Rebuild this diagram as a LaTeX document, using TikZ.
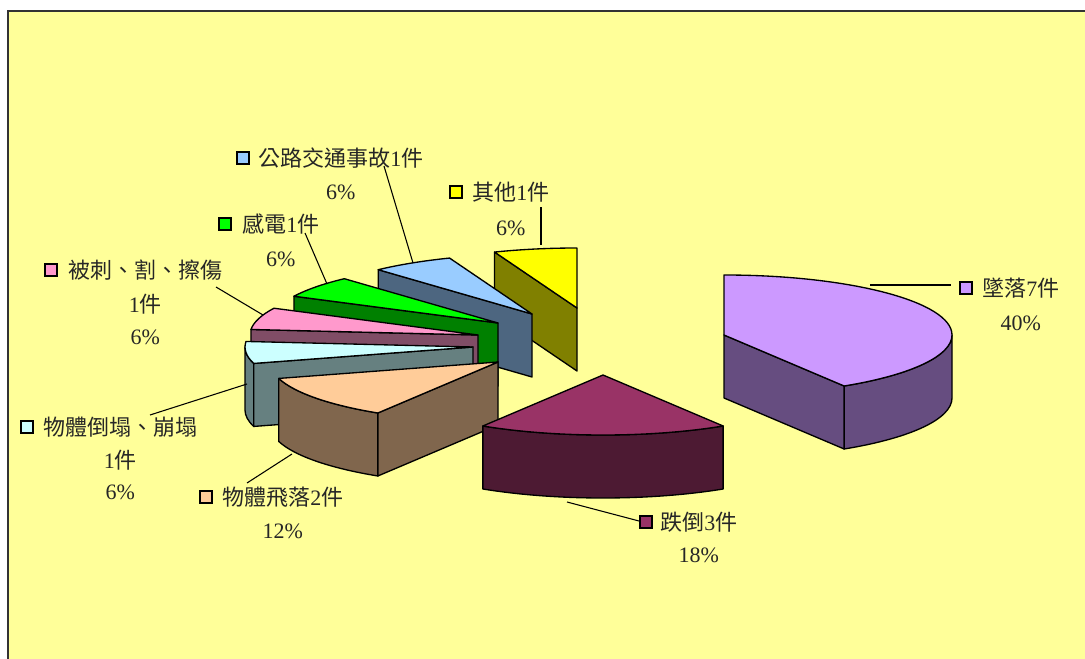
\documentclass[tikz,border=0pt]{standalone}
\usepackage{fontspec}
\setmainfont{Liberation Serif}
\newfontfamily\cjkf{Noto Sans CJK TC}
\usetikzlibrary{calc}
\newcommand{\zh}[1]{{\cjkf #1}}
\definecolor{bgyellow}{HTML}{FFFF99}
\definecolor{purpleT}{HTML}{CC99FF}\definecolor{purpleS}{HTML}{664D80}
\definecolor{maroonT}{HTML}{993366}\definecolor{maroonS}{HTML}{4D1A33}
\definecolor{peachT}{HTML}{FFCC99}\definecolor{peachS}{HTML}{80664D}
\definecolor{cyanT}{HTML}{CCFFFF}\definecolor{cyanS}{HTML}{668080}
\definecolor{pinkT}{HTML}{FF99CC}\definecolor{pinkS}{HTML}{804D66}
\definecolor{greenT}{HTML}{00FF00}\definecolor{greenS}{HTML}{008000}
\definecolor{blueT}{HTML}{99CCFF}\definecolor{blueS}{HTML}{4D6680}
\definecolor{yellowT}{HTML}{FFFF00}\definecolor{yellowS}{HTML}{808000}
% top face of a wedge: start angle, end angle (clockwise from back), fill
\newcommand{\wedgetop}[3]{%
  \filldraw[face, fill=#3] (0,0) -- ({228*sin(#1)},{60*cos(#1)})
    arc[start angle={90-#1}, end angle={90-#2}, x radius=171pt, y radius=45pt] -- cycle;}
% radial side face at an angle
\newcommand{\wedgerad}[2]{%
  \filldraw[face, fill=#2] (0,0) -- ({228*sin(#1)},{60*cos(#1)}) -- ++(0,-63) -- (0,-63) -- cycle;}
% outer rim face between two angles
\newcommand{\wedgerim}[3]{%
  \filldraw[face, fill=#3] ({228*sin(#1)},{60*cos(#1)})
    arc[start angle={90-#1}, end angle={90-#2}, x radius=171pt, y radius=45pt] -- ++(0,-63)
    arc[start angle={90-#2}, end angle={90-#1}, x radius=171pt, y radius=45pt] -- cycle;}
\begin{document}
\begin{tikzpicture}[x=0.75pt,y=0.75pt,
  face/.style={draw=black, line width=1pt, line join=round},
  lead/.style={draw=black, line width=0.8pt},
  lbl/.style={font=\fontsize{16.5pt}{20pt}\selectfont, inner sep=0pt, text=black!85},
  sq/.style={draw=black, line width=0.8pt, minimum size=9pt, inner sep=0pt}]
\useasboundingbox (0,0) rectangle (1085,-659);
\clip (0,0) rectangle (1085,-659);
\fill[white] (0,0) rectangle (1085,-659);
\filldraw[fill=bgyellow, draw=black!80, line width=1.2pt] (8,-11) rectangle (1100,-680);

% slices, back to front
\begin{scope}[shift={(577,-308)}]
  \wedgerad{338.8}{yellowS}
  \wedgetop{338.8}{360}{yellowT}
\end{scope}
\begin{scope}[shift={(532,-314)}]
  \wedgerad{317.6}{blueS}
  \wedgetop{317.6}{338.8}{blueT}
\end{scope}
\begin{scope}[shift={(498,-323)}]
  \wedgerad{296.5}{greenS}
  \wedgetop{296.5}{317.6}{greenT}
\end{scope}
\begin{scope}[shift={(478,-335)}]
  \wedgerad{275.3}{pinkS}
  \wedgetop{275.3}{296.5}{pinkT}
\end{scope}
\begin{scope}[shift={(473,-347)}]
  \wedgerim{254.1}{270}{cyanS}
  \wedgerad{254.1}{cyanS}
  \wedgetop{254.1}{275.3}{cyanT}
\end{scope}
\begin{scope}[shift={(498,-362)}]
  \wedgerim{211.8}{254.1}{peachS}
  \wedgerad{211.8}{peachS}
  \wedgetop{211.8}{254.1}{peachT}
\end{scope}
\begin{scope}[shift={(603,-375)}]
  \wedgerim{148.2}{211.8}{maroonS}
  \wedgetop{148.2}{211.8}{maroonT}
\end{scope}
\begin{scope}[shift={(724,-335)}]
  \wedgerim{90}{148.2}{purpleS}
  \wedgerad{148.2}{purpleS}
  \wedgetop{0}{148.2}{purpleT}
\end{scope}

% labels
\node[lbl, anchor=west] (t1) at (982,-288) {\zh{墜落}7\zh{件}};
\node[lbl] (t1b) at ($(t1.center)+(0,-35)$) {40\%};
\node[sq, fill=purpleT] (s1) at ($(t1.west)+(-16,0)$) {};

\node[lbl, anchor=west] (t2) at (660,-522) {\zh{跌倒}3\zh{件}};
\node[lbl] (t2b) at ($(t2.center)+(0,-33)$) {18\%};
\node[sq, fill=maroonT] (s2) at ($(t2.west)+(-14,0)$) {};

\node[lbl, anchor=west] (t3) at (222,-497) {\zh{物體飛落}2\zh{件}};
\node[lbl] (t3b) at ($(t3.center)+(0,-34)$) {12\%};
\node[sq, fill=peachT] (s3) at ($(t3.west)+(-16,0)$) {};

\node[lbl, anchor=west] (t4) at (43,-427) {\zh{物體倒塌、崩塌}};
\node[lbl] (t4b) at ($(t4.center)+(0,-33)$) {1\zh{件}};
\node[lbl] (t4c) at ($(t4.center)+(0,-65)$) {6\%};
\node[sq, fill=cyanT] (s4) at ($(t4.west)+(-16,0)$) {};

\node[lbl, anchor=west] (t5) at (68,-270) {\zh{被刺、割、擦傷}};
\node[lbl] (t5b) at ($(t5.center)+(0,-34)$) {1\zh{件}};
\node[lbl] (t5c) at ($(t5.center)+(0,-67)$) {6\%};
\node[sq, fill=pinkT] (s5) at ($(t5.west)+(-17,0)$) {};

\node[lbl, anchor=west] (t6) at (242,-224) {\zh{感電}1\zh{件}};
\node[lbl] (t6b) at ($(t6.center)+(0,-35)$) {6\%};
\node[sq, fill=greenT] (s6) at ($(t6.west)+(-17,0)$) {};

\node[lbl, anchor=west] (t7) at (258,-158) {\zh{公路交通事故}1\zh{件}};
\node[lbl] (t7b) at ($(t7.center)+(0,-34)$) {6\%};
\node[sq, fill=blueT] (s7) at ($(t7.west)+(-15,0)$) {};

\node[lbl, anchor=west] (t8) at (472,-192) {\zh{其他}1\zh{件}};
\node[lbl] (t8b) at ($(t8.center)+(0,-36)$) {6\%};
\node[sq, fill=yellowT] (s8) at ($(t8.west)+(-16,0)$) {};

% leader lines
\coordinate (c1a) at (870,-285); \coordinate (c1b) at (951,-285);
\coordinate (c2a) at (567,-502); \coordinate (c2b) at (639,-521);
\coordinate (c3a) at (292,-454); \coordinate (c3b) at (247,-483);
\coordinate (c4a) at (247,-384); \coordinate (c4b) at (150,-415);
\coordinate (c5a) at (263,-315); \coordinate (c5b) at (216,-287);
\coordinate (c6a) at (327,-284); \coordinate (c6b) at (305,-233);
\coordinate (c7a) at (413,-263); \coordinate (c7b) at (384,-166);
\coordinate (c8a) at (541,-245); \coordinate (c8b) at (541,-207);
\draw[lead] (c1a) -- (c1b);
\draw[lead] (c2a) -- (c2b);
\draw[lead] (c3a) -- (c3b);
\draw[lead] (c4a) -- (c4b);
\draw[lead] (c5a) -- (c5b);
\draw[lead] (c6a) -- (c6b);
\draw[lead] (c7a) -- (c7b);
\draw[lead] (c8a) -- (c8b);
\end{tikzpicture}
\end{document}
